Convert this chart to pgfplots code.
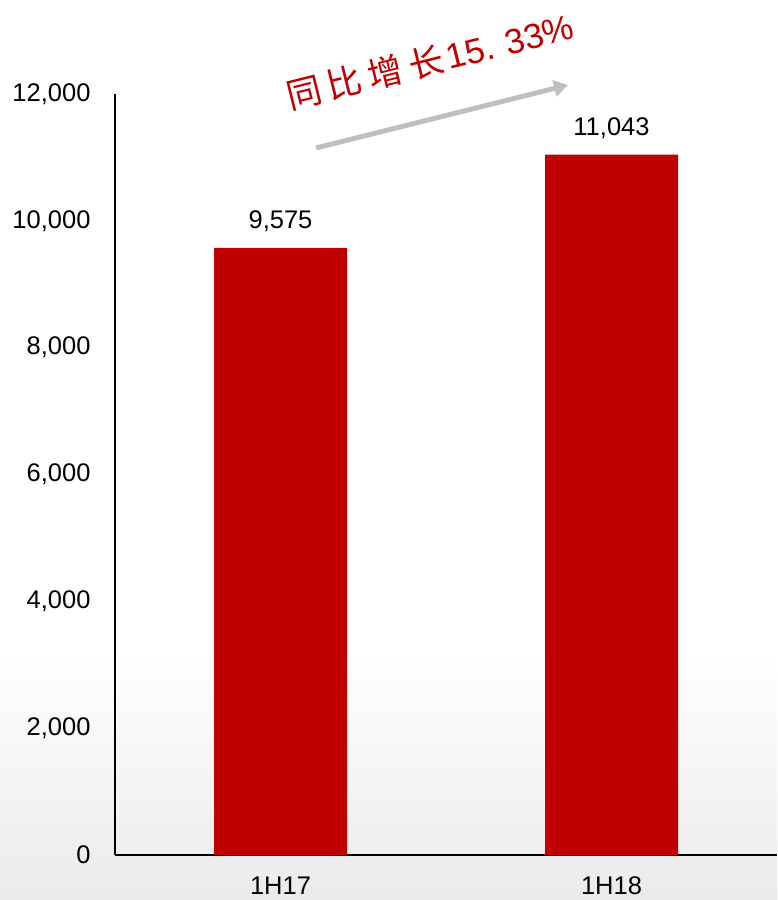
\documentclass[border=0pt]{standalone}
\usepackage{fontspec}
\setmainfont{Liberation Sans}
\newfontfamily\cjk{Noto Sans CJK SC}
\usepackage{pgfplots}
\pgfplotsset{compat=1.18}
\usetikzlibrary{arrows.meta}
\definecolor{barred}{HTML}{C00000}
\definecolor{arrowgray}{HTML}{BFBFBF}
\begin{document}
\begin{tikzpicture}
\fill[white] (0,0) rectangle (777pt,900pt);
\shade[top color=white, bottom color=black!8] (0,0) rectangle (777pt,250pt);
\useasboundingbox (0,0) rectangle (777pt,900pt);
\begin{axis}[
  at={(115pt,45pt)}, anchor=south west,
  scale only axis, width=662pt, height=761pt,
  xmin=-0.5, xmax=1.5, ymin=0, ymax=12000,
  ybar, bar width=133pt,
  axis x line=bottom, axis y line=left,
  axis line style={-, black, line width=1.3pt},
  xtick={0,1}, xticklabels={1H17,1H18},
  ytick={0,2000,4000,6000,8000,10000,12000},
  major tick length=0pt,
  tick label style={font=\fontsize{25.5}{30}\selectfont},
  yticklabel style={xshift=-21pt},
  xticklabel style={yshift=-18pt},
  /pgf/number format/assume math mode=true,
  /pgf/number format/1000 sep={,},
  scaled y ticks=false,
  nodes near coords,
  nodes near coords style={font=\fontsize{25.5}{30}\selectfont, black, yshift=12pt,
    /pgf/number format/assume math mode=true, /pgf/number format/1000 sep={,}},
  clip=false,
]
\addplot[fill=barred, draw=none] coordinates {(0,9575) (1,11043)};
\end{axis}
\draw[arrowgray, line width=5pt, -{Triangle[length=14pt,width=16pt]}] (316pt,752pt) -- (568pt,815pt);
\node[rotate=14, text=barred, font=\fontsize{35}{40}\selectfont, inner sep=0pt] at (430pt,839pt) {{\cjk 同\hspace*{7pt}比\hspace*{7pt}增\hspace*{7pt}长}\hspace*{3pt}15.\hspace*{12pt}33\%};
\end{tikzpicture}
\end{document}
